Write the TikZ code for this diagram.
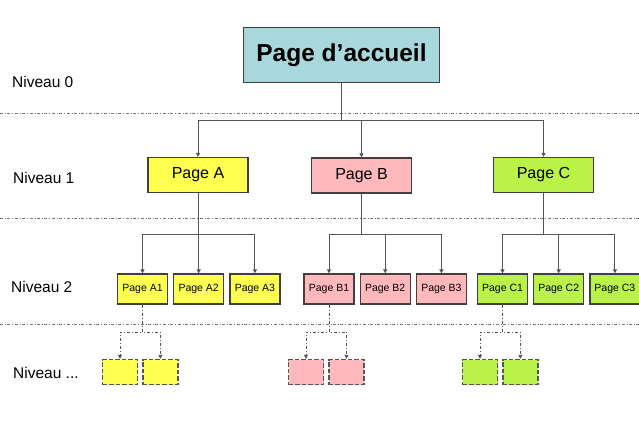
\documentclass[tikz,border=0pt]{standalone}
\usepackage{fontspec}
\setmainfont{Liberation Sans}
\usetikzlibrary{arrows.meta, positioning}
\definecolor{cteal}{HTML}{A8D8DC}
\definecolor{cyellow}{HTML}{FFFF50}
\definecolor{cpink}{HTML}{FFB8BC}
\definecolor{cgreen}{HTML}{BBF247}
\definecolor{cborder}{HTML}{404040}
\definecolor{cline}{HTML}{555555}
\definecolor{cgrey}{HTML}{777777}
\tikzset{
  every picture/.style={font=\fontsize{10.5}{12}\selectfont},
  page/.style={draw=cborder, fill=#1, line width=1.2pt, inner sep=0pt},
  home/.style={page=cteal, minimum width=196pt, minimum height=55pt, font=\bfseries\fontsize{24.5}{28}\selectfont},
  mid/.style={page=#1, minimum width=100pt, minimum height=35pt, font=\fontsize{16}{18}\selectfont},
  leaf/.style={page=#1, minimum width=50pt, minimum height=30pt},
  more/.style={page=#1, draw=cline, line width=1.4pt, dash pattern=on 4.5pt off 2pt, minimum width=35pt, minimum height=25pt},
  level/.style={font=\fontsize{15.5}{18}\selectfont, anchor=west, inner sep=0pt},
  divider/.style={draw=cgrey, dash dot, line width=0.6pt},
  link/.style={-{Triangle[length=4pt, width=4pt]}, draw=cline, line width=1pt},
  dlink/.style={link, dash dot, line width=0.7pt},
}
\begin{document}
\begin{tikzpicture}[x=1pt, y=1pt]
  \useasboundingbox (0,0) rectangle (639,-437);
  % niveaux
  \node[level] (n0) at (12,-82) {Niveau 0};
  \node[level] (n1) at (13,-178) {Niveau 1};
  \node[level] (n2) at (11,-287) {Niveau 2};
  \node[level] (n3) at (13,-373) {Niveau ...};
  \foreach \y in {-113,-218,-324}
    \draw[divider] (0,\y) -- (639,\y);

  % pages
  \node[home] (home) at (341.5,-55) {Page d’accueil};
  \node[mid=cyellow] (pa) at (198,-175) {Page A};
  \node[mid=cpink] (pb) at (361.5,-175.5) {Page B};
  \node[mid=cgreen] (pc) at (543.5,-175) {Page C};

  \node[leaf=cyellow] (a1) at (142.5,-289) {Page A1};
  \node[leaf=cyellow, right=5pt of a1] (a2) {Page A2};
  \node[leaf=cyellow, right=5pt of a2] (a3) {Page A3};
  \node[leaf=cpink] (b1) at (329,-289) {Page B1};
  \node[leaf=cpink, right=5pt of b1] (b2) {Page B2};
  \node[leaf=cpink, right=5pt of b2] (b3) {Page B3};
  \node[leaf=cgreen] (c1) at (502.5,-289) {Page C1};
  \node[leaf=cgreen, right=5pt of c1] (c2) {Page C2};
  \node[leaf=cgreen, right=5pt of c2] (c3) {Page C3};

  \node[more=cyellow] (am1) at (120,-372) {};
  \node[more=cyellow, right=4pt of am1] (am2) {};
  \node[more=cpink] (bm1) at (306,-372) {};
  \node[more=cpink, right=4pt of bm1] (bm2) {};
  \node[more=cgreen] (cm1) at (480,-372) {};
  \node[more=cgreen, right=4pt of cm1] (cm2) {};

  % liens
  \coordinate (bus1) at (0,-120);
  \coordinate (bus2) at (0,-234);
  \coordinate (bus3) at (0,-332);
  \foreach \p in {pa,pb,pc}
    \draw[link] (home.south) -- (home.south |- bus1) -| (\p.north);
  \foreach \p/\c in {pa/a, pb/b, pc/c} {
    \foreach \i in {1,2,3}
      \draw[link] (\p.south) -- (\p.south |- bus2) -| (\c\i.north);
    \foreach \i in {1,2}
      \draw[dlink] (\c1.south) -- (\c1.south |- bus3) -| (\c m\i.north);
  }
\end{tikzpicture}
\end{document}
